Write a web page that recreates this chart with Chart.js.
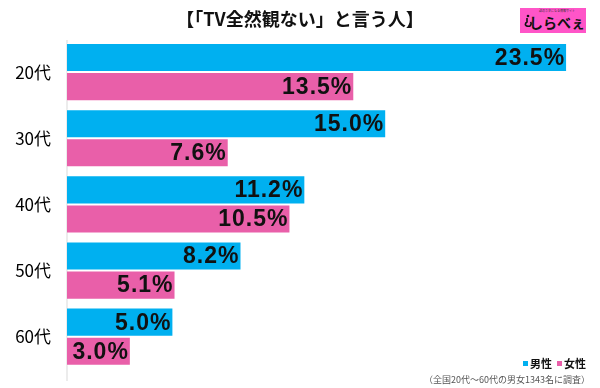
<!DOCTYPE html>
<html><head><meta charset="utf-8">
<script src="https://cdn.jsdelivr.net/npm/chart.js@4/dist/chart.umd.min.js"></script>
<style>
html,body{margin:0;padding:0;background:#fff;}
#wrap{position:relative;width:600px;height:388px;overflow:hidden;font-family:"Noto Sans CJK JP","Noto Sans",sans-serif;}
#title{position:absolute;left:0;width:600px;top:5px;text-align:center;font-size:18px;font-weight:bold;color:#111;line-height:26px;}
#logo{position:absolute;left:520px;top:8px;width:66px;height:25px;background:#ff55c8;text-align:center;}
#logo .s{font-size:3px;line-height:6px;color:#333;padding-left:8px;}
#logo .m{font-size:14px;font-weight:bold;line-height:16px;color:#111;padding-left:8px;}
#logo .i{position:absolute;left:4px;top:6px;width:8px;height:13px;}
#legend{position:absolute;right:14px;top:355px;font-size:11px;font-weight:bold;color:#111;}
#legend span.b{display:inline-block;width:5px;height:5px;margin-right:2px;vertical-align:2px;}
#note{position:absolute;right:10px;top:373px;font-size:9px;color:#555;}
canvas{position:absolute;left:0;top:0;}
#axisline{position:absolute;left:66px;top:40px;width:2px;height:341px;background:#ececec;}
</style></head>
<body><div id="wrap">
<div id="axisline"></div>
<canvas id="c" width="600" height="388"></canvas>
<div id="title">【「TV全然観ない」と言う人】</div>
<div id="logo"><svg class="i" viewBox="0 0 8 13"><circle cx="4" cy="2" r="1.3" fill="#111"/><path d="M3 4 L3 8 Q1 9 1.5 11 Q3 13 6 12 Q8 10 6.5 8" fill="none" stroke="#111" stroke-width="1.6"/></svg><div class="s">話のネタになる情報サイト</div><div class="m">しらべぇ</div></div>
<div id="legend"><span class="b" style="background:#00b0f0"></span>男性 &nbsp;<span class="b" style="background:#e95fa9"></span>女性</div>
<div id="note">（全国20代～60代の男女1343名に調査）</div>
</div>
<script>
const categories = ["20代","30代","40代","50代","60代"];
const seriesNames = ["男性","女性"];
const male = [23.5, 15.0, 11.2, 8.2, 5.0];
const female = [13.5, 7.6, 10.5, 5.1, 3.0];

const labelPlugin = {
  id:'barLabels',
  afterDatasetsDraw(chart){
    const ctx = chart.ctx;
    ctx.save();
    ctx.font = 'bold 23px "Liberation Sans", Arial, sans-serif';
    ctx.fillStyle = '#111';
    ctx.textAlign = 'right';
    ctx.textBaseline = 'middle';
    if (ctx.letterSpacing !== undefined) ctx.letterSpacing = '1px';
    chart.data.datasets.forEach((ds, di) => {
      const meta = chart.getDatasetMeta(di);
      meta.data.forEach((bar, i) => {
        ctx.fillText(ds.data[i].toFixed(1) + '%', bar.x - 2, bar.y + 1);
      });
    });
    ctx.restore();
  }
};

new Chart(document.getElementById('c'), {
  type:'bar',
  data:{
    labels: categories,
    datasets:[
      {label:seriesNames[0], data:male, backgroundColor:'#00b0f0', borderColor:'rgba(255,255,255,0.5)', borderWidth:1, categoryPercentage:0.88, barPercentage:1.0},
      {label:seriesNames[1], data:female, backgroundColor:'#e95fa9', borderColor:'rgba(255,255,255,0.5)', borderWidth:1, categoryPercentage:0.88, barPercentage:1.0}
    ]
  },
  options:{
    indexAxis:'y',
    responsive:false,
    animation:false,
    layout:{padding:{top:39, bottom:-10, right:1, left:0}},
    plugins:{legend:{display:false}, tooltip:{enabled:false}, title:{display:false}},
    scales:{
      x:{display:false, min:0, max:25},
      y:{
        afterFit(s){ s.width = 67; },
        grid:{display:false},
        border:{display:false},
        ticks:{color:'#000', padding:8, font:{family:'"Noto Sans CJK JP","Noto Sans",sans-serif', size:17}}
      }
    }
  },
  plugins:[labelPlugin]
});
</script>
</body></html>
